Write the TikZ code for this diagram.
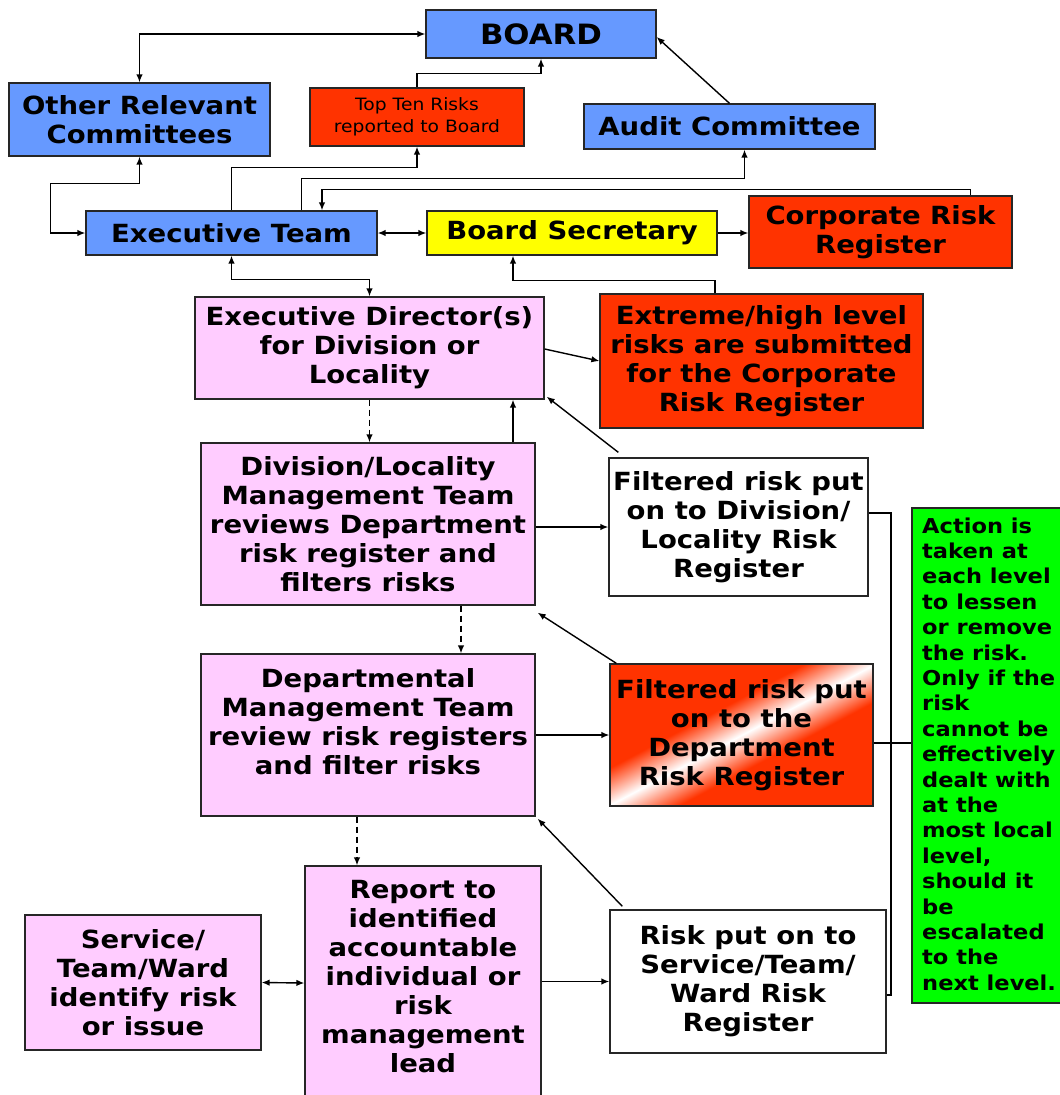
\documentclass[tikz,border=0pt]{standalone}
\usepackage{fontspec}
\setmainfont{DejaVu Sans}[FakeStretch=1.1]
\usetikzlibrary{arrows.meta,calc}
\definecolor{cblue}{HTML}{6699FF}
\definecolor{cred}{HTML}{FF3300}
\definecolor{cyel}{HTML}{FFFF00}
\definecolor{cpink}{HTML}{FFCCFF}
\definecolor{cgreen}{HTML}{00FF00}
\pgfdeclarehorizontalshading{stripe}{100bp}{color(0bp)=(cred); color(41bp)=(cred); color(50bp)=(white); color(59bp)=(cred); color(100bp)=(cred)}
\begin{document}
\begin{tikzpicture}[x=1pt,y=-1pt,
  box/.style={draw=black!85, line width=1.3pt, inner sep=0pt, align=center,
    font=\fontsize{25}{29}\selectfont\bfseries},
  conn/.style={line width=1.4pt, -{Latex[length=8pt,width=6.5pt]}},
  bconn/.style={line width=1.4pt, {Latex[length=8pt,width=6.5pt]}-{Latex[length=8pt,width=6.5pt]}},
  dconn/.style={conn, dash pattern=on 6pt off 4pt},
  plain/.style={line width=1.4pt},
  lbl/.style={inner sep=0pt, align=center, font=\fontsize{25}{29}\selectfont\bfseries},
  gtxt/.style={inner sep=0pt, align=left, font=\fontsize{20.5}{25.4}\selectfont\bfseries}
]
\useasboundingbox (0,0) rectangle (1060,1095);

% boxes
\node[box, fill=cblue, minimum width=230pt, minimum height=48pt,
  font=\fontsize{28}{32}\selectfont\bfseries] (board) at (541,34) {BOARD};
\node[box, fill=cblue, minimum width=261pt, minimum height=73pt] (orc) at (139.5,119.5) {Other Relevant\\Committees};
\node[box, fill=cred, minimum width=214pt, minimum height=58pt,
  font=\fontsize{17}{22}\selectfont] (top) at (417,117) {Top Ten Risks\\reported to Board};
\node[box, fill=cblue, minimum width=291pt, minimum height=45pt] (audit) at (729.5,126.5) {Audit Committee};
\node[box, fill=cblue, minimum width=291pt, minimum height=44pt] (exec) at (231.5,233) {Executive Team};
\node[box, fill=cyel, minimum width=290pt, minimum height=44pt] (bsec) at (572,233) {Board Secretary};
\node[box, fill=cred, minimum width=263pt, minimum height=72pt] (crr) at (880.5,232) {Corporate Risk\\Register};
\node[box, fill=cpink, minimum width=349pt, minimum height=102pt] (ed) at (369.5,348) {Executive Director(s)\\for Division or\\Locality};
\node[box, fill=cred, minimum width=323pt, minimum height=134pt] (ext) at (761.5,361) {Extreme/high level\\risks are submitted\\for the Corporate\\Risk Register};
\node[box, fill=cpink, minimum width=334pt, minimum height=162pt] (div) at (368,524) {Division/Locality\\Management Team\\reviews Department\\risk register and\\filters risks};
\node[box, fill=white, minimum width=259pt, minimum height=138pt] (fdiv) at (738.5,527) {Filtered risk put\\on to Division/\\Locality Risk\\Register};
\node[box, fill=cgreen, minimum width=149pt, minimum height=495pt] (green) at (986.5,755.5) {};
\node[gtxt, anchor=west] (gtext) at (922,754) {Action is\\taken at\\each level\\to lessen\\or remove\\the risk.\\Only if the\\risk\\cannot be\\effectively\\dealt with\\at the\\most local\\level,\\should it\\be\\escalated\\to the\\next level.};
\node[box, fill=cpink, minimum width=334pt, minimum height=162pt] (dept) at (368,735) {};
\node[lbl] (deptT) at (368,722) {Departmental\\Management Team\\review risk registers\\and filter risks};
\node[box, shading=stripe, shading angle=-62, minimum width=263pt, minimum height=142pt] (fdept) at (741.5,735) {Filtered risk put\\on to the\\Department\\Risk Register};
\node[box, fill=cpink, minimum width=236pt, minimum height=135pt] (svc) at (143,982.5) {Service/\\Team/Ward\\identify risk\\or issue};
\node[box, fill=cpink, minimum width=236pt, minimum height=234pt] (report) at (423,983) {};
\node[lbl] (reportT) at (423,977) {Report to\\identified\\accountable\\individual or\\risk\\management\\lead};
\node[box, fill=white, minimum width=276pt, minimum height=143pt] (rsvc) at (748,981.5) {Risk put on to\\Service/Team/\\Ward Risk\\Register};

% connectors
\draw[bconn] (board.west) -| (orc.north);
\draw[conn] (top.north) |- ($(board.south)+(0,15)$) -- (board.south);
\draw[conn] (audit.north) -- ($(board.east)+(0,3)$);
\draw[bconn] (orc.south) -- ++(0,27) -| ($(exec.west)+(-35,0)$) -- (exec.west);
\draw[conn] (exec.north) |- ($(top.south)+(0,21)$) -- (top.south);
\draw[conn] ($(exec.north)+(70,0)$) |- ($(audit.south)+(15,29)$) -- ($(audit.south)+(15,0)$);
\draw[conn] ($(crr.north)+(90,0)$) -- ++(0,-6) -| ($(exec.north)+(90.5,0)$);
\draw[bconn] (exec.east) -- (bsec.west);
\draw[conn] (bsec.east) -- (bsec.east -| crr.west);
\draw[bconn] (exec.south) |- ($(ed.north)+(0,-17)$) -- (ed.north);
\draw[conn] ($(ext.north)+(-46.5,0)$) -- ++(0,-13) -| ($(bsec.south)+(-59,0)$);
\draw[conn] ($(ed.east)+(0,1)$) -- (ext.west);
\draw[conn] ($(fdiv.north west)+(10,-5)$) -- ($(ed.south east)+(2,-3)$);
\draw[dconn] (ed.south) -- (ed.south |- div.north);
\draw[conn] ($(div.north)+(145,0)$) -- ($(ed.south)+(143.5,0)$);
\draw[conn] (div.east |- fdiv.west) -- (fdiv.west);
\draw[conn] ($(fdept.north west)+(7,0)$) -- ($(div.south east)+(2,7)$);
\draw[dconn] ($(div.south)+(93,0)$) -- ($(dept.north)+(93,0)$);
\draw[conn] (dept.east |- fdept.west) -- (fdept.west);
\draw[conn] ($(rsvc.north west)+(13,-3)$) -- ($(dept.south east)+(2,2)$);
\draw[dconn] ($(dept.south)+(-11,0)$) -- ($(report.north)+(-66,0)$);
\draw[bconn] (svc.east) -- (report.west);
\draw[conn] (report.east |- rsvc.west) -- (rsvc.west);
\coordinate (bx) at (891,0);
\coordinate (b1) at ($(fdiv.east)+(0,-14)$);
\coordinate (b2) at ($(rsvc.east)+(0,13.5)$);
\coordinate (b3) at ($(fdept.east)+(0,8)$);
\draw[plain] (b1) -- (b1 -| bx) -- (b2 -| bx) -- (b2);
\draw[plain] (b3) -- (b3 -| green.west);
\end{tikzpicture}
\end{document}
